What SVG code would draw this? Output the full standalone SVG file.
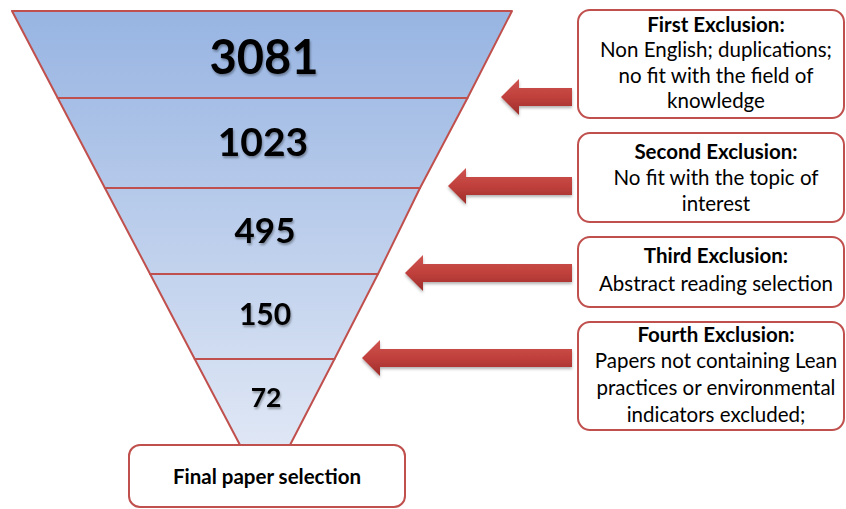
<svg xmlns="http://www.w3.org/2000/svg" width="846" height="509" viewBox="0 0 846 509">
<defs>
<linearGradient id="fg" gradientUnits="userSpaceOnUse" x1="0" y1="11" x2="0" y2="445">
<stop offset="0" stop-color="#97b4e2"/>
<stop offset="1" stop-color="#dfe7f5"/>
</linearGradient>
<linearGradient id="ag" x1="0" y1="0" x2="0" y2="1">
<stop offset="0" stop-color="#cf5450"/>
<stop offset="0.5" stop-color="#c0403c"/>
<stop offset="1" stop-color="#9c2e2b"/>
</linearGradient>
<filter id="ts" x="-20%" y="-20%" width="140%" height="150%">
<feDropShadow dx="1" dy="2" stdDeviation="1" flood-color="#000" flood-opacity="0.35"/>
</filter>
<filter id="as" x="-10%" y="-30%" width="120%" height="170%">
<feDropShadow dx="0" dy="2" stdDeviation="1.5" flood-color="#000" flood-opacity="0.3"/>
</filter>
</defs>
<style>
.seg{fill:url(#fg);stroke:#c0504d;stroke-width:2;stroke-linejoin:round}
.num{font-family:Lato,"Open Sans",sans-serif;font-weight:bold;fill:#000;text-anchor:middle;filter:url(#ts)}
.box{fill:#fff;stroke:#c0504d;stroke-width:2}
.t{font-family:Lato,"Open Sans",sans-serif;font-size:20.5px;fill:#000;text-anchor:middle}
.b{font-weight:bold}
.arr{fill:url(#ag);filter:url(#as)}
</style>
<g id="level1"><polygon class="seg" points="12,11 512,11 467.5,98 57.7,98"/><text class="num" x="264" y="74" font-size="47">3081</text></g>
<g id="level2"><polygon class="seg" points="57.7,98 467.5,98 420,188 104.9,188"/><text class="num" x="263" y="156" font-size="39">1023</text></g>
<g id="level3"><polygon class="seg" points="104.9,188 420,188 378,274 150.1,274"/><text class="num" x="265" y="243" font-size="35">495</text></g>
<g id="level4"><polygon class="seg" points="150.1,274 378,274 334.5,359 194.7,359"/><text class="num" x="265" y="325" font-size="30">150</text></g>
<g id="level5"><polygon class="seg" points="194.7,359 334.5,359 290,445 240,445"/><text class="num" x="266" y="407" font-size="26.5">72</text></g>
<g id="final"><rect class="box" x="129" y="445" width="276" height="62" rx="11"/><text class="t b" x="267" y="484">Final paper selection</text></g>
<g id="ex1"><rect class="box" x="578" y="10" width="266" height="108" rx="12"/>
<text class="t b" x="716" y="32">First Exclusion:</text>
<text class="t" x="716" y="57">Non English; duplications;</text>
<text class="t" x="716" y="83">no fit with the field of</text>
<text class="t" x="716" y="108">knowledge</text></g>
<g id="ex2"><rect class="box" x="578" y="133" width="266" height="89" rx="12"/>
<text class="t b" x="716" y="159">Second Exclusion:</text>
<text class="t" x="716" y="185">No fit with the topic of</text>
<text class="t" x="716" y="211">interest</text></g>
<g id="ex3"><rect class="box" x="578" y="237" width="266" height="70" rx="12"/>
<text class="t b" x="716" y="263">Third Exclusion:</text>
<text class="t" x="716" y="291">Abstract reading selection</text></g>
<g id="ex4"><rect class="box" x="578" y="322" width="266" height="108" rx="12"/>
<text class="t b" x="716" y="342">Fourth Exclusion:</text>
<text class="t" x="716" y="368">Papers not containing Lean</text>
<text class="t" x="716" y="395">practices or environmental</text>
<text class="t" x="716" y="422">indicators excluded;</text></g>
<g id="connectors">
<polygon class="arr" points="501,97 519,79 519,88 572,88 572,106 519,106 519,115"/>
<polygon class="arr" points="448,186 466,168 466,177 572,177 572,195 466,195 466,204"/>
<polygon class="arr" points="405,273 423,255 423,264 572,264 572,282 423,282 423,291"/>
<polygon class="arr" points="362,358 380,340 380,349 572,349 572,367 380,367 380,376"/>
</g>
</svg>
